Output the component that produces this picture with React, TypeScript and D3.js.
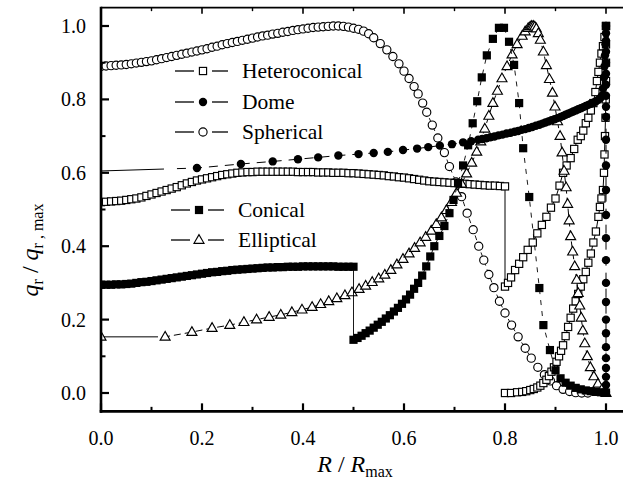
import React from "react";
import * as d3 from "d3";

const WIDTH = 623;
const HEIGHT = 482;

const X_TICKS = [0, 0.2, 0.4, 0.6, 0.8, 1.0];
const X_MINOR = [0.1, 0.3, 0.5, 0.7, 0.9];
const Y_TICKS = [0, 0.2, 0.4, 0.6, 0.8, 1.0];
const Y_MINOR = [0.1, 0.3, 0.5, 0.7, 0.9];

const LEGEND_NAMES = ["Heteroconical", "Dome", "Spherical", "Conical", "Elliptical"];

// Heteroconical (open squares)
const HETERO: [number, number][] = [
  [0, 0.52], [0.01, 0.521], [0.02, 0.522], [0.03, 0.523], [0.04, 0.524], [0.05, 0.526], [0.06, 0.528], [0.07, 0.53],
  [0.08, 0.533], [0.09, 0.537], [0.1, 0.541], [0.11, 0.545], [0.12, 0.549], [0.13, 0.553], [0.14, 0.557], [0.15, 0.561],
  [0.16, 0.566], [0.17, 0.571], [0.18, 0.575], [0.19, 0.579], [0.2, 0.582], [0.21, 0.585], [0.22, 0.588], [0.23, 0.591],
  [0.24, 0.594], [0.25, 0.596], [0.26, 0.598], [0.27, 0.6], [0.28, 0.601], [0.29, 0.602], [0.3, 0.602], [0.31, 0.603],
  [0.32, 0.603], [0.33, 0.603], [0.34, 0.603], [0.35, 0.603], [0.36, 0.603], [0.37, 0.603], [0.38, 0.603], [0.39, 0.602],
  [0.4, 0.602], [0.41, 0.602], [0.42, 0.602], [0.43, 0.601], [0.44, 0.601], [0.45, 0.601], [0.46, 0.6], [0.47, 0.6],
  [0.48, 0.6], [0.49, 0.599], [0.5, 0.599], [0.51, 0.598], [0.52, 0.597], [0.53, 0.596], [0.54, 0.595], [0.55, 0.594],
  [0.56, 0.593], [0.57, 0.591], [0.58, 0.59], [0.59, 0.588], [0.6, 0.587], [0.61, 0.585], [0.62, 0.583], [0.63, 0.581],
  [0.64, 0.579], [0.65, 0.577], [0.66, 0.576], [0.67, 0.575], [0.68, 0.574], [0.69, 0.573], [0.7, 0.572], [0.71, 0.571],
  [0.72, 0.57], [0.73, 0.569], [0.74, 0.568], [0.75, 0.567], [0.76, 0.566], [0.77, 0.565], [0.78, 0.565], [0.79, 0.564],
  [0.8, 0.563], [0.8, 0.29], [0.806, 0.3], [0.812, 0.315], [0.82, 0.335], [0.828, 0.352], [0.836, 0.37], [0.845, 0.39],
  [0.855, 0.41], [0.864, 0.435], [0.873, 0.458], [0.882, 0.48], [0.891, 0.505], [0.9, 0.53], [0.908, 0.565], [0.915, 0.6],
  [0.922, 0.62], [0.93, 0.64], [0.937, 0.665], [0.944, 0.69], [0.95, 0.7], [0.955, 0.715], [0.96, 0.735], [0.965, 0.75],
  [0.97, 0.77], [0.975, 0.79], [0.979, 0.82], [0.982, 0.85], [0.985, 0.875], [0.988, 0.9], [0.991, 0.925], [0.994, 0.945],
  [0.997, 0.97], [1.0, 1.0],
];

// second open-square chain near the edge
const HETERO_EDGE: [number, number][] = [
  [0.8, 0.0], [0.812, 0.0], [0.824, 0.002], [0.834, 0.003], [0.842, 0.005], [0.85, 0.008], [0.857, 0.011], [0.864, 0.015],
  [0.87, 0.02], [0.876, 0.027], [0.882, 0.036], [0.887, 0.046], [0.892, 0.058], [0.897, 0.07], [0.902, 0.085], [0.907, 0.1],
  [0.911, 0.115], [0.915, 0.13], [0.92, 0.155], [0.925, 0.18], [0.93, 0.205], [0.935, 0.23], [0.94, 0.25], [0.945, 0.27],
  [0.95, 0.29], [0.955, 0.31], [0.96, 0.33], [0.965, 0.355], [0.97, 0.38], [0.975, 0.41], [0.98, 0.44], [0.985, 0.48],
  [0.988, 0.507], [0.991, 0.53], [0.994, 0.553], [0.996, 0.6], [0.997, 0.65], [0.998, 0.7], [0.999, 0.75], [0.9995, 0.8],
  [1.0, 0.85], [1.0, 0.9], [1.0, 0.95], [1.0, 1.0],
];

// Dome (filled circles)
const DOME: [number, number][] = [
  [0, 0.605], [0.19, 0.613], [0.277, 0.624], [0.34, 0.631], [0.39, 0.637], [0.43, 0.642], [0.47, 0.647], [0.51, 0.651],
  [0.54, 0.654], [0.568, 0.657], [0.598, 0.662], [0.626, 0.666], [0.648, 0.67], [0.671, 0.674], [0.695, 0.678], [0.717, 0.683],
  [0.733, 0.686], [0.747, 0.69], [0.755, 0.692], [0.763, 0.694], [0.771, 0.697], [0.779, 0.699], [0.787, 0.702], [0.795, 0.704],
  [0.803, 0.707], [0.811, 0.709], [0.819, 0.712], [0.826, 0.714], [0.833, 0.717], [0.84, 0.719], [0.847, 0.722], [0.854, 0.725],
  [0.861, 0.728], [0.868, 0.731], [0.874, 0.734], [0.88, 0.737], [0.886, 0.74], [0.892, 0.743], [0.898, 0.746], [0.904, 0.749],
  [0.91, 0.752], [0.915, 0.755], [0.92, 0.758], [0.925, 0.761], [0.93, 0.764], [0.935, 0.767], [0.94, 0.77], [0.945, 0.773],
  [0.95, 0.776], [0.955, 0.779], [0.96, 0.782], [0.965, 0.785], [0.97, 0.788], [0.975, 0.791], [0.98, 0.795], [0.985, 0.799],
  [0.989, 0.804], [0.992, 0.81], [0.994, 0.83], [0.996, 0.86], [0.997, 0.89], [0.998, 0.92], [0.999, 0.95], [1.0, 0.98],
  [1.0, 1.0], [1.0, 0.96], [1.0, 0.93], [1.0, 0.9], [1.0, 0.87], [1.0, 0.84], [1.0, 0.81], [1.0, 0.78],
  [1.0, 0.752], [1.0, 0.69], [1.0, 0.62], [1.0, 0.553], [1.0, 0.485], [1.0, 0.422], [1.0, 0.362], [1.0, 0.3],
  [1.0, 0.248], [1.0, 0.2], [1.0, 0.163], [1.0, 0.125], [1.0, 0.095], [1.0, 0.068], [1.0, 0.044], [1.0, 0.022],
  [1.0, 0.003],
];

// Spherical (open circles)
const SPHERICAL: [number, number][] = [
  [0, 0.89], [0.01, 0.891], [0.02, 0.892], [0.03, 0.893], [0.04, 0.894], [0.05, 0.895], [0.06, 0.897], [0.07, 0.899],
  [0.08, 0.901], [0.09, 0.903], [0.1, 0.905], [0.11, 0.908], [0.12, 0.911], [0.13, 0.914], [0.14, 0.917], [0.15, 0.92],
  [0.16, 0.923], [0.17, 0.926], [0.18, 0.929], [0.19, 0.932], [0.2, 0.935], [0.21, 0.938], [0.22, 0.942], [0.23, 0.945],
  [0.24, 0.949], [0.25, 0.952], [0.26, 0.955], [0.27, 0.958], [0.28, 0.961], [0.29, 0.964], [0.3, 0.967], [0.31, 0.97],
  [0.32, 0.973], [0.33, 0.975], [0.34, 0.978], [0.35, 0.98], [0.36, 0.983], [0.37, 0.985], [0.38, 0.988], [0.39, 0.99],
  [0.4, 0.992], [0.41, 0.994], [0.42, 0.996], [0.43, 0.997], [0.44, 0.998], [0.45, 0.999], [0.46, 1.0], [0.47, 1.0],
  [0.48, 0.999], [0.49, 0.997], [0.5, 0.994], [0.51, 0.991], [0.52, 0.986], [0.53, 0.979], [0.54, 0.968], [0.553, 0.952],
  [0.566, 0.935], [0.578, 0.917], [0.59, 0.897], [0.6, 0.877], [0.61, 0.857], [0.62, 0.835], [0.628, 0.815], [0.637, 0.79],
  [0.645, 0.765], [0.656, 0.73], [0.667, 0.695], [0.68, 0.655], [0.69, 0.617], [0.703, 0.575], [0.714, 0.535], [0.725, 0.49],
  [0.737, 0.445], [0.748, 0.4], [0.758, 0.362], [0.768, 0.323], [0.778, 0.287], [0.789, 0.25], [0.8, 0.218], [0.813, 0.185],
  [0.826, 0.153], [0.84, 0.122], [0.852, 0.095], [0.865, 0.07], [0.878, 0.05], [0.89, 0.033], [0.902, 0.02], [0.915, 0.01],
  [0.928, 0.004], [0.94, 0.001], [0.952, 0.0], [0.964, 0.0],
];

// Conical (filled squares)
const CONICAL: [number, number][] = [
  [0, 0.295], [0.01, 0.295], [0.02, 0.295], [0.03, 0.296], [0.04, 0.296], [0.05, 0.297], [0.06, 0.298], [0.07, 0.3],
  [0.08, 0.302], [0.09, 0.303], [0.1, 0.305], [0.11, 0.307], [0.12, 0.309], [0.13, 0.311], [0.14, 0.313], [0.15, 0.315],
  [0.16, 0.317], [0.17, 0.319], [0.18, 0.321], [0.19, 0.323], [0.2, 0.325], [0.21, 0.327], [0.22, 0.329], [0.23, 0.33],
  [0.24, 0.332], [0.25, 0.333], [0.26, 0.335], [0.27, 0.336], [0.28, 0.337], [0.29, 0.338], [0.3, 0.339], [0.31, 0.34],
  [0.32, 0.341], [0.33, 0.342], [0.34, 0.342], [0.35, 0.343], [0.36, 0.343], [0.37, 0.344], [0.38, 0.344], [0.39, 0.344],
  [0.4, 0.345], [0.41, 0.345], [0.42, 0.345], [0.43, 0.345], [0.44, 0.345], [0.45, 0.345], [0.46, 0.345], [0.47, 0.344],
  [0.48, 0.344], [0.49, 0.344], [0.5, 0.344], [0.5, 0.145], [0.508, 0.15], [0.516, 0.156], [0.524, 0.163], [0.532, 0.17],
  [0.54, 0.178], [0.548, 0.186], [0.556, 0.194], [0.564, 0.203], [0.572, 0.212], [0.58, 0.222], [0.588, 0.232], [0.596, 0.243],
  [0.604, 0.255], [0.612, 0.268], [0.62, 0.284], [0.628, 0.3], [0.636, 0.32], [0.644, 0.345], [0.652, 0.372], [0.66, 0.4],
  [0.67, 0.428], [0.68, 0.455], [0.69, 0.49], [0.698, 0.526], [0.707, 0.572], [0.717, 0.62], [0.727, 0.675], [0.736, 0.735],
  [0.745, 0.795], [0.754, 0.86], [0.764, 0.92], [0.776, 0.965], [0.788, 0.995], [0.798, 0.995], [0.808, 0.957], [0.818, 0.894],
  [0.828, 0.79], [0.836, 0.667], [0.848, 0.534], [0.868, 0.286], [0.876, 0.185], [0.889, 0.117], [0.9, 0.062], [0.91, 0.04],
  [0.92, 0.028], [0.93, 0.02], [0.94, 0.014], [0.95, 0.01], [0.96, 0.007], [0.97, 0.005], [0.98, 0.003], [0.99, 0.002],
  [1.0, 0.001],
];

// Elliptical (open triangles)
const ELLIPTICAL: [number, number][] = [
  [0, 0.153], [0.127, 0.153], [0.18, 0.166], [0.22, 0.177], [0.255, 0.185], [0.283, 0.193], [0.308, 0.2], [0.333, 0.207],
  [0.356, 0.213], [0.378, 0.22], [0.398, 0.227], [0.418, 0.234], [0.435, 0.242], [0.451, 0.25], [0.467, 0.258], [0.483, 0.266],
  [0.497, 0.274], [0.511, 0.283], [0.524, 0.292], [0.537, 0.302], [0.55, 0.312], [0.562, 0.322], [0.574, 0.335], [0.586, 0.35],
  [0.598, 0.365], [0.61, 0.38], [0.621, 0.395], [0.632, 0.41], [0.643, 0.425], [0.654, 0.442], [0.664, 0.46], [0.674, 0.478],
  [0.684, 0.498], [0.694, 0.52], [0.704, 0.545], [0.714, 0.57], [0.724, 0.598], [0.734, 0.627], [0.744, 0.657], [0.752, 0.685],
  [0.76, 0.72], [0.768, 0.755], [0.776, 0.79], [0.785, 0.823], [0.794, 0.857], [0.804, 0.89], [0.814, 0.922], [0.824, 0.95],
  [0.834, 0.973], [0.84, 0.985], [0.846, 0.994], [0.85, 0.998], [0.853, 1.0], [0.856, 1.0], [0.859, 0.998], [0.862, 0.993],
  [0.866, 0.98], [0.87, 0.962], [0.876, 0.93], [0.882, 0.893], [0.888, 0.855], [0.894, 0.818], [0.899, 0.78], [0.904, 0.74],
  [0.909, 0.7], [0.913, 0.655], [0.917, 0.605], [0.921, 0.56], [0.924, 0.515], [0.927, 0.47], [0.93, 0.427], [0.934, 0.385],
  [0.938, 0.345], [0.942, 0.308], [0.945, 0.272], [0.948, 0.238], [0.951, 0.205], [0.954, 0.17], [0.958, 0.135], [0.963, 0.1],
  [0.969, 0.07], [0.976, 0.045], [0.984, 0.025], [0.992, 0.01], [1.0, 0.0],
];

type MarkerKind = "openSquare" | "filledSquare" | "openCircle" | "filledCircle" | "openTriangle";

function Marker({ kind, cx, cy }: { kind: MarkerKind; cx: number; cy: number }) {
  const sw = 1.15;
  switch (kind) {
    case "openSquare":
      return <rect x={cx - 3.6} y={cy - 3.6} width={7.2} height={7.2} fill="#fff" stroke="#000" strokeWidth={sw} />;
    case "filledSquare":
      return <rect x={cx - 4.1} y={cy - 4.1} width={8.2} height={8.2} fill="#000" />;
    case "openCircle":
      return <circle cx={cx} cy={cy} r={4.1} fill="#fff" stroke="#000" strokeWidth={sw} />;
    case "filledCircle":
      return <circle cx={cx} cy={cy} r={4.2} fill="#000" />;
    case "openTriangle":
    default: {
      const s = 10;
      const h = s * 0.87;
      const p = `${cx},${cy - h * 0.62} ${cx - s / 2},${cy + h * 0.38} ${cx + s / 2},${cy + h * 0.38}`;
      return <polygon points={p} fill="#fff" stroke="#000" strokeWidth={sw} />;
    }
  }
}

function dashWithLead(lead: number, gap: number, dash: number, space: number) {
  const parts: number[] = [lead, gap];
  for (let i = 0; i < 200; i++) parts.push(dash, space);
  return parts.join(",");
}

const FONT = "'Liberation Serif', 'DejaVu Serif', 'Times New Roman', Times, serif";

export default function App() {
  const x = d3.scaleLinear().domain([0, 1]).range([101, 606]);
  const y = d3.scaleLinear().domain([0, 1]).range([393, 26]);
  const left = x(0);
  const right = x(1.04);
  const top = y(1.05);
  const bottom = y(-0.05);

  const line = d3
    .line<[number, number]>()
    .x((d) => x(d[0]))
    .y((d) => y(d[1]));

  const series = [
    { key: "sph", data: SPHERICAL, kind: "openCircle" as MarkerKind, dash: "5,4", width: 0.9, from: 0 },
    { key: "het", data: HETERO, kind: "openSquare" as MarkerKind, dash: undefined, width: 1, from: 0 },
    { key: "het2", data: HETERO_EDGE, kind: "openSquare" as MarkerKind, dash: undefined, width: 1, from: 0 },
    { key: "ell", data: ELLIPTICAL, kind: "openTriangle" as MarkerKind, dash: dashWithLead(57, 5, 7, 4), width: 1, from: 0 },
    { key: "con", data: CONICAL, kind: "filledSquare" as MarkerKind, dash: dashWithLead(330, 6, 5, 6), width: 0.9, from: 0 },
    { key: "dome", data: DOME, kind: "filledCircle" as MarkerKind, dash: dashWithLead(63, 13, 9, 7), width: 1, from: 1 },
  ];

  const legendKinds: MarkerKind[] = ["openSquare", "filledCircle", "openCircle", "filledSquare", "openTriangle"];
  const legendY = [71, 102, 132, 210, 240];
  const legendX = [242, 242, 242, 238, 238];

  const textStyle = { fontFamily: FONT } as React.CSSProperties;

  return (
    <svg
      width={WIDTH}
      height={HEIGHT}
      viewBox={`0 0 ${WIDTH} ${HEIGHT}`}
      style={{ position: "absolute", left: 0, top: 0, background: "#fff", fontFamily: FONT }}
    >
      <rect x={0} y={0} width={WIDTH} height={HEIGHT} fill="#fff" />
      <defs>
        <clipPath id="plotClip">
          <rect x={left} y={top} width={right - left} height={bottom - top} />
        </clipPath>
      </defs>

      <g clipPath="url(#plotClip)">
        {series.map((s) => (
          <g key={s.key}>
            <path d={line(s.data) || ""} fill="none" stroke="#000" strokeWidth={s.width} strokeDasharray={s.dash} />
            {s.data.slice(s.from).map((d, i) => (
              <Marker key={i} kind={s.kind} cx={x(d[0])} cy={y(d[1])} />
            ))}
          </g>
        ))}
      </g>

      {/* frame */}
      <line x1={left} x2={right} y1={top} y2={top} stroke="#000" strokeWidth={1.6} />
      <line x1={right} x2={right} y1={top} y2={bottom} stroke="#000" strokeWidth={1.6} />
      <line x1={left} x2={left} y1={top - 0.8} y2={bottom + 1.3} stroke="#000" strokeWidth={2.6} />
      <line x1={left - 1.3} x2={right} y1={bottom} y2={bottom} stroke="#000" strokeWidth={2.6} />

      {/* x ticks */}
      {X_TICKS.map((t) => (
        <g key={"xt" + t}>
          <line x1={x(t)} x2={x(t)} y1={bottom} y2={bottom - 8} stroke="#000" strokeWidth={2.2} />
          <line x1={x(t)} x2={x(t)} y1={top} y2={top + 6} stroke="#000" strokeWidth={1.6} />
          <text x={x(t)} y={445} textAnchor="middle" fontSize={20} style={textStyle}>
            {t.toFixed(1)}
          </text>
        </g>
      ))}
      {X_MINOR.map((t) => (
        <g key={"xm" + t}>
          <line x1={x(t)} x2={x(t)} y1={bottom} y2={bottom - 4.5} stroke="#000" strokeWidth={2} />
          <line x1={x(t)} x2={x(t)} y1={top} y2={top + 3.5} stroke="#000" strokeWidth={1.4} />
        </g>
      ))}

      {/* y ticks */}
      {Y_TICKS.map((t) => (
        <g key={"yt" + t}>
          <line x1={left} x2={left + 8} y1={y(t)} y2={y(t)} stroke="#000" strokeWidth={2.2} />
          <text x={86} y={y(t) + 7} textAnchor="end" fontSize={20} style={textStyle}>
            {t.toFixed(1)}
          </text>
        </g>
      ))}
      {Y_MINOR.map((t) => (
        <line key={"ym" + t} x1={left} x2={left + 4.5} y1={y(t)} y2={y(t)} stroke="#000" strokeWidth={2} />
      ))}

      {/* axis titles */}
      <text x={355} y={472} textAnchor="middle" fontSize={24} style={textStyle}>
        <tspan fontStyle="italic">R</tspan>
        <tspan> / </tspan>
        <tspan fontStyle="italic">R</tspan>
        <tspan fontSize={16} dy={5}>max</tspan>
      </text>
      <text transform="translate(38,250) rotate(-90)" textAnchor="middle" fontSize={24} style={textStyle}>
        <tspan fontStyle="italic">q</tspan>
        <tspan fontSize={16} dy={5}>r</tspan>
        <tspan dy={-5}> / </tspan>
        <tspan fontStyle="italic">q</tspan>
        <tspan fontSize={16} dy={5}>r , max</tspan>
      </text>

      {/* legend */}
      {LEGEND_NAMES.map((name, i) => (
        <g key={name}>
          <line x1={legendX[i] - 67} x2={legendX[i] - 48} y1={legendY[i]} y2={legendY[i]} stroke="#000" strokeWidth={1.3} />
          <line x1={legendX[i] - 30} x2={legendX[i] - 14} y1={legendY[i]} y2={legendY[i]} stroke="#000" strokeWidth={1.3} />
          <Marker kind={legendKinds[i]} cx={legendX[i] - 39} cy={legendY[i]} />
          <text x={legendX[i]} y={legendY[i] + 7} fontSize={21.5} style={textStyle}>
            {name}
          </text>
        </g>
      ))}
    </svg>
  );
}
